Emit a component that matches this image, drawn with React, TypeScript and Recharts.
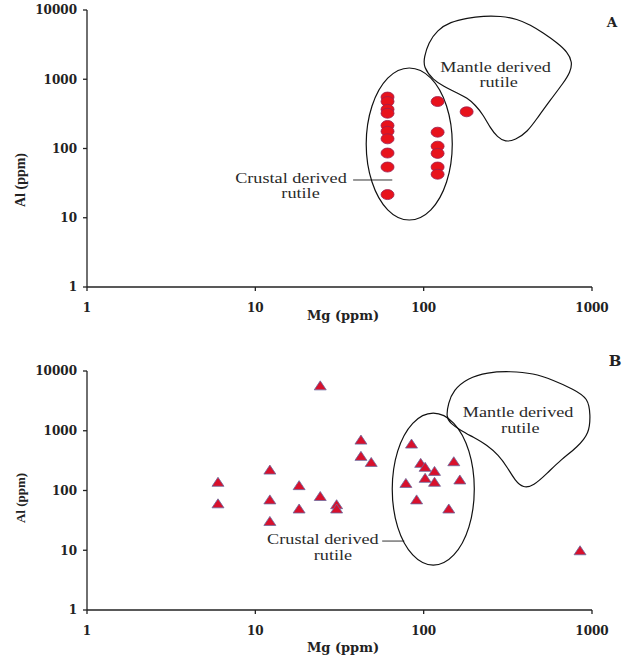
import React from "react";
import { ScatterChart, Scatter, XAxis, YAxis, ReferenceLine, ReferenceDot } from "recharts";

const WIDE_SERIF = "'DejaVu Serif', serif";
const SERIF = "'Liberation Serif', 'Times New Roman', serif";

const mgTicks = [1, 10, 100, 1000];
const alTicks = [1, 10, 100, 1000, 10000];

// Panel A – circles
const mgA = [61, 61, 61, 61, 61, 61, 61, 61, 61, 61, 121, 121, 121, 121, 121, 121, 180];
const alA = [553, 477, 368, 323, 215, 177, 138, 86, 54, 21.6, 477, 172, 108, 85, 54, 42.5, 339];

// Panel B – triangles
const mgB = [6.0, 6.0, 12.2, 12.2, 12.2, 18.2, 18.2, 24.3, 24.3, 30.4, 30.4, 42.4, 42.4, 48.8, 84.7, 78.4, 90.8, 96, 102, 102, 116, 116, 151, 164, 141, 849];
const alB = [140, 61, 224, 71, 31, 123, 50, 5750, 81, 59, 50, 711, 380, 301, 610, 134, 71, 290, 249, 163, 213, 140, 309, 153, 50, 10];

// field outlines (control points)
const crustMgA = [152, 140, 112, 82.1, 60.3, 48.2, 44.3, 48.2, 60.3, 82.1, 112, 140];
const crustAlA = [116, 436, 1148, 1637, 1148, 436, 116, 30.9, 11.75, 8.24, 11.75, 30.9];
const mantleMgA = [99.5, 100.8, 106.5, 120.5, 143.9, 181.6, 226.1, 285.4, 360.1, 430.3, 514.1, 622.7, 714.1, 764.7, 744, 676.1, 565.7, 473.6, 412.9, 350.4, 305.6, 273.9, 248.9, 226.1, 202.7, 181.6, 158.4, 130.8, 114];
const mantleAlA = [1503, 2096, 3338, 5144, 6709, 7664, 8193, 8193, 7413, 6074, 4655, 3338, 2475, 1775, 1272, 883, 501.5, 275.6, 173.1, 132.7, 124.2, 146.6, 197.7, 304.6, 424.8, 536, 632.9, 799, 975.4];

const crustMgB = [205, 190, 153, 114, 85, 68.5, 63.4, 68.5, 85, 114, 153, 190];
const crustAlB = [105.5, 489, 1498, 2262, 1498, 489, 105.5, 22.8, 7.43, 4.92, 7.43, 22.8];
const mantleMgB = [136, 140, 150, 182, 239, 327, 448, 589, 775, 952, 978, 965, 819, 649, 543, 448, 391, 350, 314, 278, 239, 197, 165, 144];
const mantleAlB = [1688, 2894, 4774, 7579, 9550, 9900, 9190, 7019, 4962, 3510, 1823, 912, 532, 322, 195, 118.5, 110, 144, 246, 391, 574, 782, 1023, 1340];

// annotation text anchors
const noteText = ["Crustal derived", "rutile", "Mantle derived", "rutile"];
const noteMgA = [16.28, 18.56, 267.6, 278.8];
const noteAlA = [31.75, 19.1, 1285, 765];
const noteMgB = [25.2, 28.9, 364, 375];
const noteAlB = [12.55, 6.86, 1708, 901];
const leaderMgA = [38.1, 65.1];
const leaderAlA = 35.1;
const leaderMgB = [56.7, 76.7];
const leaderAlB = 14.25;

const zip = (xs: number[], ys: number[]) => xs.map((x, i) => ({ x, y: ys[i] }));

const axisStroke = { stroke: "#222", strokeWidth: 1.3 };
const tickStyle = { fontFamily: WIDE_SERIF, fontSize: 12, fontWeight: "bold", fill: "#222" };

const CircleMark = (p: any) => (
  <ellipse cx={p.cx} cy={p.cy} rx={6.5} ry={5} fill="#e8121c" stroke="#9a2050" strokeWidth={0.8} />
);

const TriangleMark = (p: any) => (
  <polygon
    points={`${p.cx - 6},${p.cy + 4.5} ${p.cx + 6},${p.cy + 4.5} ${p.cx},${p.cy - 4.5}`}
    fill="#d8102c"
    stroke="#6a6aa0"
    strokeWidth={0.8}
  />
);

const NoShape = () => <g />;

// the source figure is stretched sideways, so the Times-like text is widened a bit
const NoteText = ({ cx, cy, text }: { cx: number; cy: number; text: string }) => (
  <text
    transform={`translate(${cx},${cy}) scale(1.3,1)`}
    textAnchor="middle"
    fontFamily={SERIF}
    fontSize={14}
    fill="#2a2a2a"
  >
    {text}
  </text>
);

interface PanelProps {
  data: { x: number; y: number }[];
  crust: { x: number; y: number }[];
  mantle: { x: number; y: number }[];
  mark: (p: any) => React.ReactElement;
  noteMg: number[];
  noteAl: number[];
  leaderMg: number[];
  leaderAl: number;
  height: number;
  top: number;
  bottom: number;
  xAxisHeight: number;
}

const Panel = ({ data, crust, mantle, mark, noteMg, noteAl, leaderMg, leaderAl, height, top, bottom, xAxisHeight }: PanelProps) => (
  <ScatterChart width={624} height={height} margin={{ top, right: 32, bottom, left: 0 }}>
    <XAxis
      type="number"
      dataKey="x"
      scale="log"
      domain={[1, 1000]}
      ticks={mgTicks}
      interval={0}
      height={xAxisHeight}
      tickSize={4}
      tickMargin={12}
      tick={tickStyle}
      axisLine={axisStroke}
      tickLine={axisStroke}
    />
    <YAxis
      type="number"
      dataKey="y"
      scale="log"
      domain={[1, 10000]}
      ticks={alTicks}
      interval={0}
      width={87}
      tickSize={4}
      tickMargin={6}
      tick={tickStyle}
      axisLine={axisStroke}
      tickLine={axisStroke}
    />
    <Scatter data={crust} shape={NoShape} line={{ stroke: "#111", strokeWidth: 1.2 }} lineType="joint" lineJointType="basisClosed" isAnimationActive={false} />
    <Scatter data={mantle} shape={NoShape} line={{ stroke: "#111", strokeWidth: 1.2 }} lineType="joint" lineJointType="basisClosed" isAnimationActive={false} />
    <ReferenceLine
      segment={[{ x: leaderMg[0], y: leaderAl }, { x: leaderMg[1], y: leaderAl }]}
      stroke="#333"
      strokeWidth={1}
    />
    {noteText.map((t, i) => (
      <ReferenceDot
        key={i}
        x={noteMg[i]}
        y={noteAl[i]}
        r={0}
        shape={(p: any) => <NoteText cx={p.cx} cy={p.cy} text={t} />}
      />
    ))}
    <Scatter data={data} shape={mark} isAnimationActive={false} />
  </ScatterChart>
);

export default function App() {
  return (
    <div style={{ position: "absolute", left: 0, top: 0, width: 624, height: 657, background: "#fff" }}>
      <Panel
        data={zip(mgA, alA)}
        crust={zip(crustMgA, crustAlA)}
        mantle={zip(mantleMgA, mantleAlA)}
        mark={CircleMark}
        noteMg={noteMgA}
        noteAl={noteAlA}
        leaderMg={leaderMgA}
        leaderAl={leaderAlA}
        height={330}
        top={10}
        bottom={5}
        xAxisHeight={38}
      />
      <Panel
        data={zip(mgB, alB)}
        crust={zip(crustMgB, crustAlB)}
        mantle={zip(mantleMgB, mantleAlB)}
        mark={TriangleMark}
        noteMg={noteMgB}
        noteAl={noteAlB}
        leaderMg={leaderMgB}
        leaderAl={leaderAlB}
        height={327}
        top={41}
        bottom={3}
        xAxisHeight={44}
      />
      <svg width={624} height={657} style={{ position: "absolute", left: 0, top: 0, pointerEvents: "none" }}>
        <g fontFamily={WIDE_SERIF} fontWeight="bold" fill="#222">
          <text x={343} y={320} fontSize={13} textAnchor="middle">Mg (ppm)</text>
          <text x={343} y={652} fontSize={13} textAnchor="middle">Mg (ppm)</text>
          <text x={612} y={27} fontSize={13.5} textAnchor="middle">A</text>
          <text x={615} y={366} fontSize={15} textAnchor="middle">B</text>
        </g>
        <g fontFamily={SERIF} fontWeight="bold" fill="#222">
          <text transform="translate(25,180) rotate(-90)" fontSize={14} textAnchor="middle">Al (ppm)</text>
          <text transform="translate(25,498) rotate(-90)" fontSize={13} textAnchor="middle">Al (ppm)</text>
        </g>
      </svg>
    </div>
  );
}
